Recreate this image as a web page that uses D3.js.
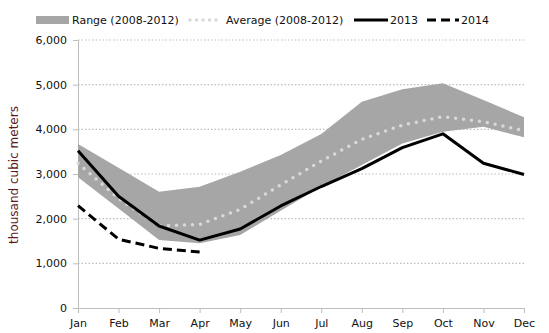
<!DOCTYPE html>
<html><head><meta charset="utf-8">
<script src="https://cdn.jsdelivr.net/npm/d3@7"></script>
<style>body{margin:0;background:#fff;} svg{display:block;font-family:"DejaVu Sans",Verdana,sans-serif;}</style>
</head><body><svg id="c" width="549" height="333"></svg>
<script>
const months = ["Jan","Feb","Mar","Apr","May","Jun","Jul","Aug","Sep","Oct","Nov","Dec"];
const rangeLow  = [2925,2225,1520,1450,1635,2180,2720,3200,3685,3945,4060,3820];
const rangeHigh = [3670,3140,2600,2715,3050,3425,3895,4620,4895,5030,4655,4270];
const average   = [3240,2450,1840,1870,2210,2755,3290,3775,4095,4285,4170,3970];
const y2013     = [3520,2500,1835,1520,1770,2285,2720,3120,3590,3900,3240,2990];
const y2014     = [2290,1540,1335,1255];
const yTicks    = [0,1000,2000,3000,4000,5000,6000];

const svg = d3.select("#c");
const L = 78, R = 524, T = 40, B = 308;
const x = d3.scalePoint().domain(months).range([L, R]);
const y = d3.scaleLinear().domain([0, 6000]).range([B, T]);

// grid
svg.append("g").selectAll("line").data(yTicks.filter(d => d > 0)).join("line")
  .attr("x1", L).attr("x2", R).attr("y1", d => y(d)).attr("y2", d => y(d))
  .attr("stroke", "#bdbdbd").attr("stroke-width", 1.2).attr("stroke-dasharray", "1.5,2");

// y axis
const ya = svg.append("g").attr("transform", `translate(${L},0)`)
  .call(d3.axisLeft(y).tickValues(yTicks).tickFormat(d3.format(",")).tickSize(5).tickPadding(6));
ya.select(".domain").attr("stroke", "#bdbdbd");
ya.selectAll(".tick line").attr("stroke", "#bdbdbd");
ya.selectAll("text").attr("font-size", 11).attr("fill", "#111").attr("font-family", "DejaVu Sans, Verdana, sans-serif");

// x axis
const xa = svg.append("g").attr("transform", `translate(0,${B})`)
  .call(d3.axisBottom(x).tickSize(5).tickPadding(6).tickSizeOuter(0));
xa.select(".domain").attr("stroke", "#bdbdbd");
xa.selectAll(".tick line").attr("stroke", "#bdbdbd");
xa.selectAll("text").attr("font-size", 11).attr("fill", "#111").attr("font-family", "DejaVu Sans, Verdana, sans-serif");

// range area
const area = d3.area().x((d, i) => x(months[i])).y0((d, i) => y(rangeLow[i])).y1(d => y(d));
svg.append("path").datum(rangeHigh).attr("d", area).attr("fill", "#a6a6a6");

const line = d3.line().x((d, i) => x(months[i])).y(d => y(d));
svg.append("path").datum(average).attr("d", line).attr("fill", "none")
  .attr("stroke", "#d9d9d9").attr("stroke-width", 3.5).attr("stroke-linecap", "round")
  .attr("stroke-dasharray", "0,8");
svg.append("path").datum(y2013).attr("d", line).attr("fill", "none")
  .attr("stroke", "#000").attr("stroke-width", 3).attr("stroke-linejoin", "round");
svg.append("path").datum(y2014).attr("d", line).attr("fill", "none")
  .attr("stroke", "#000").attr("stroke-width", 3).attr("stroke-dasharray", "9,5");

// y label
svg.append("text").attr("transform", "translate(18,175) rotate(-90)")
  .attr("text-anchor", "middle").attr("font-size", 12).attr("fill", "#5c1a1a")
  .text("thousand cubic meters");

// legend
const lg = svg.append("g").attr("font-size", 11).attr("fill", "#111");
lg.append("rect").attr("x", 36).attr("y", 16).attr("width", 33).attr("height", 8).attr("fill", "#a6a6a6");
lg.append("text").attr("x", 72).attr("y", 24).text("Range (2008-2012)");
lg.append("line").attr("x1", 190).attr("x2", 222).attr("y1", 20).attr("y2", 20)
  .attr("stroke", "#d9d9d9").attr("stroke-width", 3.5).attr("stroke-linecap", "round").attr("stroke-dasharray", "0,6.5");
lg.append("text").attr("x", 226).attr("y", 24).text("Average (2008-2012)");
lg.append("line").attr("x1", 354).attr("x2", 388).attr("y1", 20).attr("y2", 20)
  .attr("stroke", "#000").attr("stroke-width", 3);
lg.append("text").attr("x", 390).attr("y", 24).text("2013");
lg.append("line").attr("x1", 427).attr("x2", 459).attr("y1", 20).attr("y2", 20)
  .attr("stroke", "#000").attr("stroke-width", 3).attr("stroke-dasharray", "9,5");
lg.append("text").attr("x", 461).attr("y", 24).text("2014");
</script></body></html>
